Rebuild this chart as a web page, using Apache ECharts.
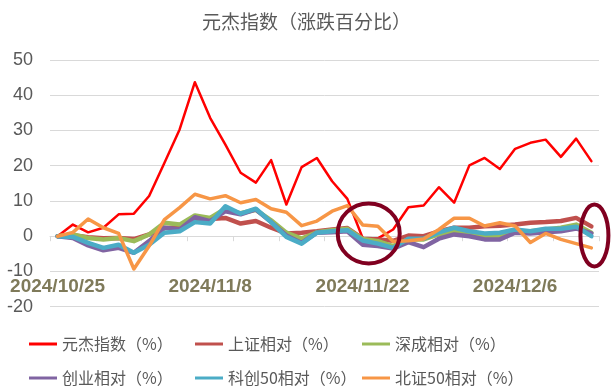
<!DOCTYPE html>
<html>
<head>
<meta charset="utf-8">
<script src="https://cdn.jsdelivr.net/npm/echarts@6/dist/echarts.min.js"></script>
<style>html,body{margin:0;padding:0;background:#fff;}#c{width:613px;height:390px;}</style>
</head>
<body>
<div id="c"></div>
<script>
var dates = ['2024/10/25','2024/10/28','2024/10/29','2024/10/30','2024/10/31','2024/11/1','2024/11/4','2024/11/5','2024/11/6','2024/11/7','2024/11/8','2024/11/11','2024/11/12','2024/11/13','2024/11/14','2024/11/15','2024/11/18','2024/11/19','2024/11/20','2024/11/21','2024/11/22','2024/11/25','2024/11/26','2024/11/27','2024/11/28','2024/11/29','2024/12/2','2024/12/3','2024/12/4','2024/12/5','2024/12/6','2024/12/9','2024/12/10','2024/12/11','2024/12/12','2024/12/13'];
var yuanjie = [0, 3.3, 1.1, 2.4, 6.2, 6.4, 11.4, 20.8, 30.3, 43.7, 33.6, 26.0, 18.0, 15.2, 21.6, 9.0, 19.6, 22.2, 15.6, 10.6, -0.5, -0.6, 1.9, 8.2, 8.7, 13.9, 9.5, 20.1, 22.2, 19.1, 24.8, 26.5, 27.4, 22.5, 27.7, 21.3];
var shangzheng = [0, 0.3, -0.3, -0.6, -0.5, -0.8, 0.5, 2.3, 2.5, 4.6, 4.9, 5.2, 3.6, 4.3, 2.4, 0.8, 1.0, 1.4, 1.9, 2.3, -0.7, -0.9, -1.3, 0.2, 0.0, 1.4, 2.4, 2.4, 2.8, 3.0, 3.3, 3.8, 4.0, 4.3, 5.2, 2.8];
var shencheng = [0, 0.5, -0.5, -0.9, -0.5, -1.4, 0.5, 3.8, 3.3, 5.9, 5.2, 7.8, 6.5, 7.5, 4.5, 1.0, -0.7, 1.1, 1.7, 2.1, -0.8, -1.4, -2.8, -0.9, -0.9, 0.5, 1.4, 1.1, 0.0, 0.0, 1.4, 1.4, 1.9, 2.4, 3.3, 1.0];
var chuangye = [0, -0.5, -2.6, -4.0, -3.3, -4.7, -1.4, 2.4, 1.9, 5.4, 4.3, 7.1, 6.2, 7.6, 4.0, 0.2, -1.9, 1.0, 1.1, 1.4, -2.4, -2.8, -3.5, -1.7, -3.1, -0.7, 0.5, 0.0, -0.9, -0.9, 1.0, 0.8, 1.1, 1.4, 2.2, 0.8];
var kechuang50 = [0, -0.2, -1.9, -3.3, -2.4, -4.7, -2.4, 1.0, 1.4, 4.0, 3.6, 8.5, 6.4, 7.8, 4.0, -0.2, -2.1, 1.0, 1.4, 1.7, -1.2, -2.1, -3.3, -0.7, -0.7, 1.1, 2.4, 1.4, 0.8, 1.0, 1.9, 1.4, 2.1, 2.1, 2.7, 0.0];
var beizheng50 = [0, 1.1, 4.9, 2.4, 0.8, -9.3, -2.8, 4.7, 8.1, 11.9, 10.6, 11.5, 9.5, 10.4, 7.8, 6.8, 3.0, 4.3, 7.1, 8.7, 3.2, 2.8, -1.5, -1.3, -0.8, 1.9, 5.1, 5.1, 2.9, 3.8, 2.9, -1.8, 0.8, -0.9, -2.1, -3.3];
var seriesNames = ['元杰指数（%）','上证相对（%）','深成相对（%）','创业相对（%）','科创50相对（%）','北证50相对（%）'];
var seriesData = [yuanjie, shangzheng, shencheng, chuangye, kechuang50, beizheng50];
var colors = ['#FF0000','#C0504D','#9BBB59','#8064A2','#4BACC6','#F79646'];
var widths = [2.5, 4.5, 4.5, 4.5, 4.5, 3.5];
var yTicks = {min: -20, max: 50, interval: 10};

var chart = echarts.init(document.getElementById('c'), null, {renderer: 'canvas'});
var legendPos = [[29,336],[195,336],[362,336],[29,370],[195,370],[362,370]];
var legends = seriesNames.map(function(n, i){
  return {
    data: [n], left: legendPos[i][0], top: legendPos[i][1], padding: 0,
    icon: 'rect', itemWidth: 28, itemHeight: 3, selectedMode: false,
    textStyle: {fontSize: 16, color: '#595959', fontFamily: 'Noto Sans CJK SC'}
  };
});
var option = {
  animation: false,
  backgroundColor: '#ffffff',
  title: {
    text: '元杰指数（涨跌百分比）', left: 'center', top: 7,
    textStyle: {fontSize: 19, fontWeight: 'normal', color: '#595959', fontFamily: 'Noto Sans CJK SC'}
  },
  legend: legends,
  grid: {left: 50, right: 14, top: 60, bottom: 83.3},
  xAxis: {
    type: 'category', data: dates, boundaryGap: true,
    axisLine: {lineStyle: {color: '#d9d9d9', width: 1}},
    axisTick: {show: true, interval: 2, length: 5, lineStyle: {color: '#d9d9d9'}},
    axisLabel: {interval: 9, margin: -29, fontSize: 19, fontWeight: 'bold', color: '#7f7a5a', fontFamily: 'Liberation Sans'}
  },
  yAxis: {
    type: 'value', min: yTicks.min, max: yTicks.max, interval: yTicks.interval,
    axisLine: {show: false}, axisTick: {show: false},
    splitLine: {lineStyle: {color: '#d9d9d9', width: 1}},
    axisLabel: {fontSize: 18, color: '#595959', margin: 17, fontFamily: 'Liberation Sans'}
  },
  series: seriesNames.map(function(n, i){
    return {
      name: n, type: 'line', data: seriesData[i], showSymbol: false, symbol: 'none',
      color: colors[i],
      lineStyle: {color: colors[i], width: widths[i], join: 'round', cap: 'round'}
    };
  })
};
chart.setOption(option);

function px(idx, val){ return chart.convertToPixel({gridIndex: 0}, [idx, val]); }
function fracPx(fi, val){
  var a = px(Math.floor(fi), val), b = px(Math.floor(fi) + 1, val);
  var t = fi - Math.floor(fi);
  return [a[0] + (b[0]-a[0])*t, a[1]];
}
var c1 = fracPx(20.4, 0.8), c2 = fracPx(35.2, 0.2);
chart.setOption({
  graphic: [
    {type: 'ellipse', shape: {cx: c1[0], cy: c1[1], rx: 31, ry: 30}, style: {fill: 'none', stroke: '#800020', lineWidth: 4}, z: 100},
    {type: 'ellipse', shape: {cx: c2[0], cy: c2[1], rx: 14, ry: 31}, style: {fill: 'none', stroke: '#800020', lineWidth: 4}, z: 100}
  ]
});
</script>
</body>
</html>
